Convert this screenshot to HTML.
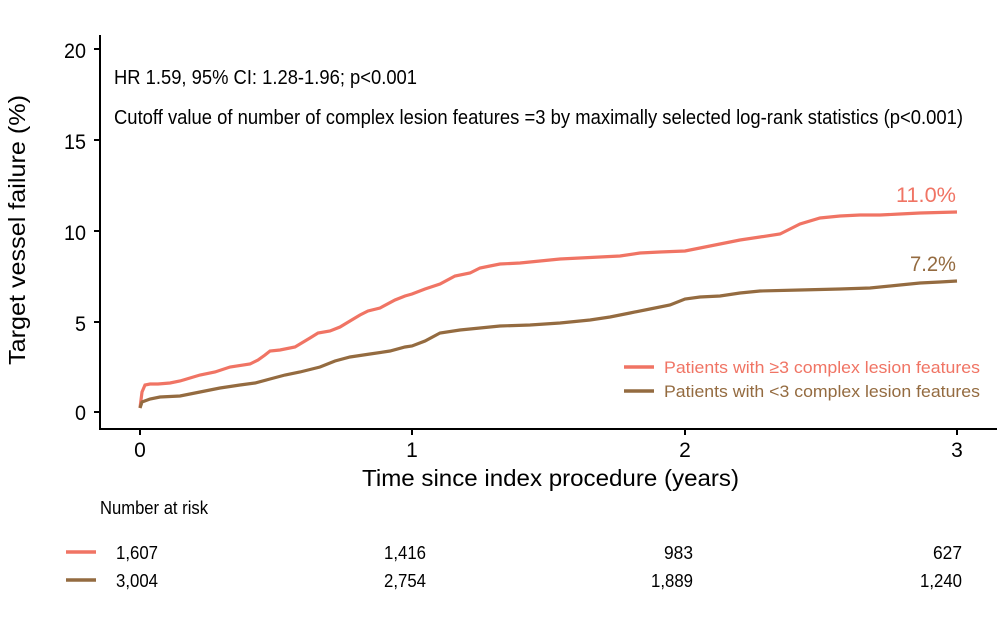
<!DOCTYPE html>
<html><head><meta charset="utf-8"><style>
body{margin:0;background:#fff}
svg{display:block}
text{font-family:"Liberation Sans Narrow","Liberation Sans",sans-serif}
</style></head><body>
<svg width="1004" height="624" viewBox="0 0 1004 624" xmlns="http://www.w3.org/2000/svg">
<g stroke="#000" stroke-width="2" fill="none">
<line x1="100" y1="35" x2="100" y2="429"/>
<line x1="99" y1="429" x2="997" y2="429"/>
<line x1="94" y1="49" x2="100" y2="49"/><line x1="94" y1="140" x2="100" y2="140"/><line x1="94" y1="231" x2="100" y2="231"/><line x1="94" y1="322" x2="100" y2="322"/><line x1="94" y1="412" x2="100" y2="412"/>
<line x1="140" y1="429" x2="140" y2="435"/><line x1="412" y1="429" x2="412" y2="435"/><line x1="685" y1="429" x2="685" y2="435"/><line x1="957" y1="429" x2="957" y2="435"/>
</g>
<g font-size="21" text-anchor="end" fill="#000" lengthAdjust="spacingAndGlyphs">
<text x="86" y="58" textLength="22" lengthAdjust="spacingAndGlyphs">20</text><text x="86" y="149" textLength="22" lengthAdjust="spacingAndGlyphs">15</text><text x="86" y="240" textLength="22" lengthAdjust="spacingAndGlyphs">10</text><text x="86" y="331" textLength="11" lengthAdjust="spacingAndGlyphs">5</text><text x="86" y="420" textLength="11" lengthAdjust="spacingAndGlyphs">0</text>
</g>
<g font-size="21" text-anchor="middle" fill="#000">
<text x="140" y="457">0</text><text x="412" y="457">1</text><text x="685" y="457">2</text><text x="957" y="457">3</text>
</g>
<text x="362" y="486" font-size="23" textLength="377" lengthAdjust="spacingAndGlyphs" font-family="Liberation Sans,sans-serif">Time since index procedure (years)</text>
<text transform="translate(25,365) rotate(-90)" font-size="23" textLength="270" lengthAdjust="spacingAndGlyphs" font-family="Liberation Sans,sans-serif">Target vessel failure (%)</text>
<text x="114" y="84" font-size="20" textLength="303" lengthAdjust="spacingAndGlyphs">HR 1.59, 95% CI: 1.28-1.96; p&lt;0.001</text>
<text x="114" y="124" font-size="20" textLength="849" lengthAdjust="spacingAndGlyphs">Cutoff value of number of complex lesion features =3 by maximally selected log-rank statistics (p&lt;0.001)</text>
<polyline fill="none" stroke="#f07464" stroke-width="3.2" stroke-linejoin="miter" points="140,408 142,392 145,385 150,384 158,384 170,383 180,381 190,378 200,375 215,372 230,367 250,364 258,360 265,355 270,351 280,350 295,347 310,338 318,333 330,331 340,327 350,321 360,315 368,311 380,308 395,300 405,296 412,294 425,289 440,284 455,276 470,273 480,268 490,266 500,264 520,263 540,261 560,259 580,258 600,257 620,256 640,253 660,252 685,251 700,248 720,244 740,240 760,237 780,234 790,229 800,224 820,218 840,216 860,215 880,215 900,214 920,213 957,212"/>
<polyline fill="none" stroke="#946b40" stroke-width="3.2" points="140,408 142,402 150,399 160,397 180,396 200,392 220,388 240,385 255,383 270,379 285,375 300,372 320,367 335,361 350,357 370,354 390,351 405,347 412,346 425,341 440,333 460,330 480,328 500,326 530,325 560,323 590,320 610,317 630,313 650,309 670,305 685,299 700,297 720,296 740,293 760,291 800,290 840,289 870,288 900,285 920,283 940,282 957,281"/>
<text x="956" y="202" font-size="21" text-anchor="end" fill="#f07464" textLength="60" lengthAdjust="spacingAndGlyphs">11.0%</text>
<text x="956" y="271" font-size="21" text-anchor="end" fill="#946b40" textLength="46" lengthAdjust="spacingAndGlyphs">7.2%</text>
<line x1="624" y1="367" x2="654" y2="367" stroke="#f07464" stroke-width="3.5"/>
<text x="664" y="373" font-size="17" fill="#f07464" textLength="316" lengthAdjust="spacingAndGlyphs">Patients with ≥3 complex lesion features</text>
<line x1="624" y1="391" x2="654" y2="391" stroke="#946b40" stroke-width="3.5"/>
<text x="664" y="397" font-size="17" fill="#946b40" textLength="316" lengthAdjust="spacingAndGlyphs">Patients with &lt;3 complex lesion features</text>
<text x="100" y="514" font-size="18" textLength="108" lengthAdjust="spacingAndGlyphs">Number at risk</text>
<line x1="66" y1="552" x2="96" y2="552" stroke="#f07464" stroke-width="3.5"/>
<line x1="66" y1="580" x2="96" y2="580" stroke="#946b40" stroke-width="3.5"/>
<g font-size="18">
<text x="116" y="559" textLength="42" lengthAdjust="spacingAndGlyphs">1,607</text><text x="116" y="587" textLength="42" lengthAdjust="spacingAndGlyphs">3,004</text>
</g>
<g font-size="18" text-anchor="end">
<text x="426" y="559" textLength="42" lengthAdjust="spacingAndGlyphs">1,416</text><text x="426" y="587" textLength="42" lengthAdjust="spacingAndGlyphs">2,754</text>
<text x="693" y="559" textLength="29" lengthAdjust="spacingAndGlyphs">983</text><text x="693" y="587" textLength="42" lengthAdjust="spacingAndGlyphs">1,889</text>
<text x="962" y="559" textLength="29" lengthAdjust="spacingAndGlyphs">627</text><text x="962" y="587" textLength="42" lengthAdjust="spacingAndGlyphs">1,240</text>
</g>
</svg>
</body></html>
